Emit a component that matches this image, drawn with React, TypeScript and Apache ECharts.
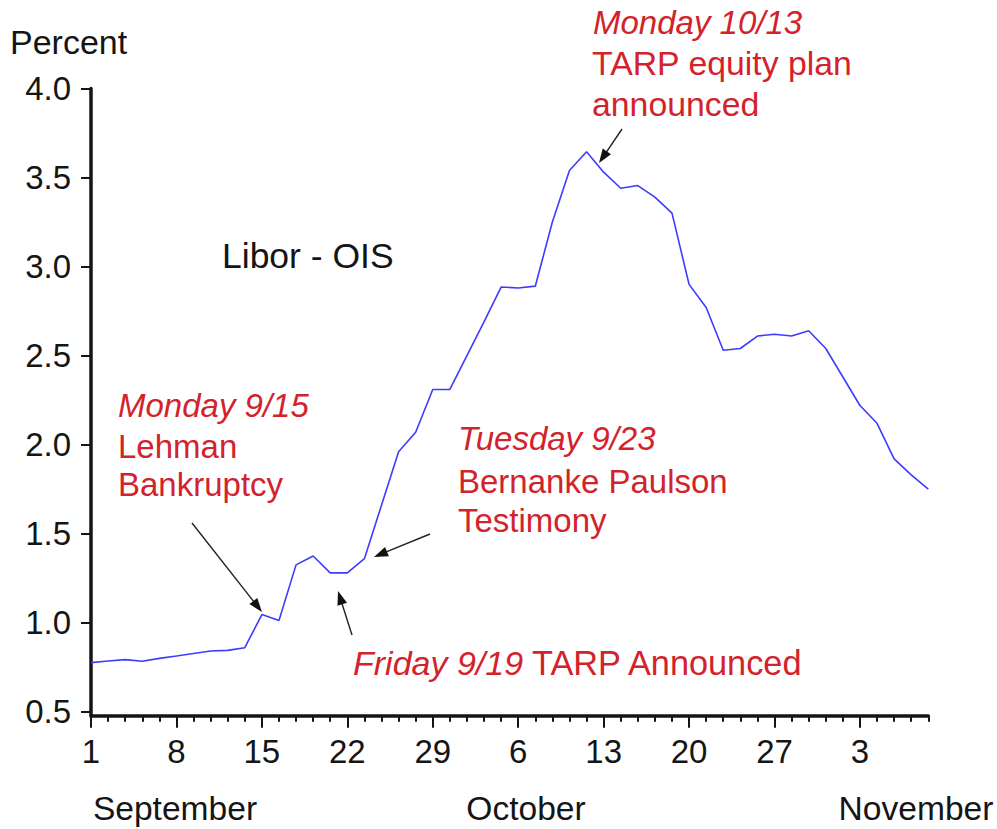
import React, { useEffect, useRef } from "react";
import * as echarts from "echarts";

// Business days, Sep 1 – Nov 7, 2008
const dates = [
  "9/1", "9/2", "9/3", "9/4", "9/5",
  "9/8", "9/9", "9/10", "9/11", "9/12",
  "9/15", "9/16", "9/17", "9/18", "9/19",
  "9/22", "9/23", "9/24", "9/25", "9/26",
  "9/29", "9/30", "10/1", "10/2", "10/3",
  "10/6", "10/7", "10/8", "10/9", "10/10",
  "10/13", "10/14", "10/15", "10/16", "10/17",
  "10/20", "10/21", "10/22", "10/23", "10/24",
  "10/27", "10/28", "10/29", "10/30", "10/31",
  "11/3", "11/4", "11/5", "11/6", "11/7",
];

// Libor - OIS spread, percent
const liborOis = [
  0.776, 0.785, 0.793, 0.784, 0.8,
  0.813, 0.827, 0.841, 0.845, 0.86,
  1.046, 1.013, 1.325, 1.375, 1.28,
  1.28, 1.36, 1.66, 1.96, 2.07,
  2.31, 2.31, 2.5, 2.69, 2.885,
  2.88, 2.89, 3.25, 3.54, 3.645,
  3.53, 3.44, 3.455, 3.39, 3.3,
  2.9, 2.77, 2.53, 2.54, 2.61,
  2.62, 2.61, 2.64, 2.54, 2.38,
  2.22, 2.12, 1.92, 1.83, 1.75,
];

const yTicks = [0.5, 1.0, 1.5, 2.0, 2.5, 3.0, 3.5, 4.0];
const monthNames = ["September", "October", "November"];

const FONT = "'Liberation Sans', Arial, Helvetica, sans-serif";
const RED = "#d2232c";
const INK = "#151515";

// annotation layout (pixels)
const notes = [
  { text: "Monday 10/13", x: 593, y: 22, italic: true, size: 33 },
  { text: "TARP equity plan", x: 592, y: 63, size: 33.8 },
  { text: "announced", x: 592, y: 104, size: 33.8 },
  { text: "Monday 9/15", x: 118, y: 405, italic: true, size: 33 },
  { text: "Lehman", x: 118, y: 446, size: 33 },
  { text: "Bankruptcy", x: 118, y: 484, size: 33 },
  { text: "Tuesday 9/23", x: 458, y: 438, italic: true, size: 33 },
  { text: "Bernanke Paulson", x: 458, y: 481, size: 33 },
  { text: "Testimony", x: 458, y: 520, size: 33 },
];

const arrows = [
  { from: [192, 523], to: [262, 612] },
  { from: [352, 635], to: [338, 591] },
  { from: [430, 534], to: [374, 557] },
  { from: [622, 129], to: [599, 163] },
];

const monthPos = [175, 526, 916];

function arrowGraphic(from: number[], to: number[]) {
  const dx = to[0] - from[0];
  const dy = to[1] - from[1];
  const len = Math.sqrt(dx * dx + dy * dy);
  const ux = dx / len;
  const uy = dy / len;
  const L = 14;
  const W = 5;
  const bx = to[0] - ux * L;
  const by = to[1] - uy * L;
  const px = -uy;
  const py = ux;
  return [
    {
      type: "line",
      shape: { x1: from[0], y1: from[1], x2: bx + ux * 2, y2: by + uy * 2 },
      style: { stroke: "#222", lineWidth: 1.4 },
      silent: true,
    },
    {
      type: "polygon",
      shape: {
        points: [
          [to[0], to[1]],
          [bx + px * W, by + py * W],
          [bx - px * W, by - py * W],
        ],
      },
      style: { fill: "#111" },
      silent: true,
    },
  ];
}

export default function App() {
  const ref = useRef<HTMLDivElement>(null);

  useEffect(() => {
    if (!ref.current) return;
    const chart = echarts.init(ref.current, null, { renderer: "svg" });

    const graphics: any[] = [];
    graphics.push({
      type: "text",
      x: 10,
      y: 42,
      style: {
        text: "Percent",
        font: `34px ${FONT}`,
        fill: INK,
        align: "left",
        verticalAlign: "middle",
      },
    });
    graphics.push({
      type: "text",
      x: 222,
      y: 256,
      style: {
        text: "Libor - OIS",
        font: `35.5px ${FONT}`,
        fill: INK,
        align: "left",
        verticalAlign: "middle",
      },
    });
    notes.forEach((n) => {
      graphics.push({
        type: "text",
        x: n.x,
        y: n.y,
        style: {
          text: n.text,
          font: `${n.italic ? "italic " : ""}${n.size}px ${FONT}`,
          fill: RED,
          align: "left",
          verticalAlign: "middle",
        },
      });
    });
    graphics.push({
      type: "text",
      x: 353,
      y: 663,
      style: {
        text: "{i|Friday 9/19} TARP Announced",
        font: `34.3px ${FONT}`,
        fill: RED,
        align: "left",
        verticalAlign: "middle",
        rich: {
          i: { fontStyle: "italic", fontSize: 34, fontFamily: FONT, fill: RED },
        },
      },
    });
    monthNames.forEach((m, i) => {
      graphics.push({
        type: "text",
        x: monthPos[i],
        y: 808,
        style: {
          text: m,
          font: `33.6px ${FONT}`,
          fill: INK,
          align: "center",
          verticalAlign: "middle",
        },
      });
    });
    arrows.forEach((a) => graphics.push(...arrowGraphic(a.from, a.to)));

    const option: any = {
      animation: false,
      backgroundColor: "#ffffff",
      grid: { left: 91, right: 68.7, top: 88.5, bottom: 113.3, containLabel: false },
      xAxis: [
        {
          type: "category",
          data: dates,
          boundaryGap: false,
          axisLine: { show: true, lineStyle: { color: INK, width: 3.5 } },
          axisTick: {
            show: true,
            interval: 0,
            length: 6,
            lineStyle: { color: INK, width: 2 },
          },
          axisLabel: { show: false },
          splitLine: { show: false },
        },
        {
          type: "category",
          data: dates,
          position: "bottom",
          boundaryGap: false,
          axisLine: { show: false },
          axisTick: {
            show: true,
            interval: (idx: number) => idx % 5 === 0,
            length: 12,
            lineStyle: { color: INK, width: 2 },
          },
          axisLabel: {
            show: true,
            interval: (idx: number) => idx % 5 === 0,
            formatter: (v: string) => v.split("/")[1],
            fontFamily: FONT,
            fontSize: 33,
            color: INK,
            margin: 19,
          },
          splitLine: { show: false },
        },
      ],
      yAxis: {
        type: "value",
        min: 0.478,
        max: 4.0,
        axisLine: { show: true, lineStyle: { color: INK, width: 3.5 } },
        axisTick: {
          show: true,
          length: 10,
          customValues: yTicks,
          lineStyle: { color: INK, width: 2 },
        },
        axisLabel: {
          show: true,
          customValues: yTicks,
          formatter: (v: number) => v.toFixed(1),
          fontFamily: FONT,
          fontSize: 33,
          color: INK,
          margin: 20,
        },
        splitLine: { show: false },
      },
      series: [
        {
          type: "line",
          name: "Libor - OIS",
          xAxisIndex: 0,
          data: liborOis,
          symbol: "none",
          lineStyle: { color: "#3c3cff", width: 1.6 },
        },
      ],
      graphic: graphics,
    };

    chart.setOption(option);
    return () => chart.dispose();
  }, []);

  return (
    <div
      ref={ref}
      style={{
        position: "fixed",
        left: 0,
        top: 0,
        width: 997,
        height: 829,
        background: "#fff",
      }}
    />
  );
}
